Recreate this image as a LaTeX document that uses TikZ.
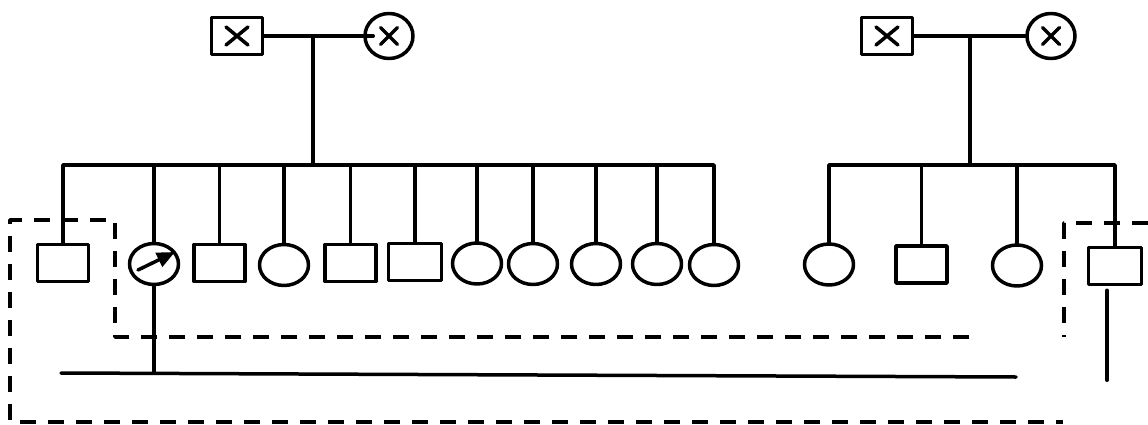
\documentclass[tikz,border=0pt]{standalone}
\usetikzlibrary{shapes.geometric,arrows.meta}
\begin{document}
\begin{tikzpicture}[x=1in,y=1in,line cap=round,line join=round,
  kin/.style={line width=0.035in},
  dashline/.style={line width=0.035in,line cap=butt,dash pattern=on 0.16in off 0.12in},
  male/.style={draw,rectangle,line width=0.035in,minimum width=0.51in,minimum height=0.37in,inner sep=0pt},
  female/.style={draw,ellipse,line width=0.035in,minimum width=0.49in,minimum height=0.41in,inner sep=0pt},
  crossed/.style 2 args={path picture={\draw[line width=0.035in] (path picture bounding box.center) +(-#1,-#2) -- +(#1,#2) +(-#1,#2) -- +(#1,-#2);}}]
\path[use as bounding box] (0,0) rectangle (11.48,-4.25);
% parents
\node[male,crossed={0.11}{0.09}] (pfA) at (2.37,-0.36) {};
\node[female,crossed={0.085}{0.085},minimum width=0.48in,minimum height=0.45in] (pmA) at (3.89,-0.36) {};
\node[male,crossed={0.11}{0.09}] (pfB) at (8.87,-0.36) {};
\node[female,crossed={0.085}{0.085},minimum width=0.48in,minimum height=0.45in] (pmB) at (10.51,-0.36) {};
% children, left sibship
\node[male] (c1) at (0.63,-2.63) {};
\node[female] (c2) at (1.54,-2.64) {};
\node[male] (c3) at (2.195,-2.63) {};
\node[female] (c4) at (2.84,-2.65) {};
\node[male] (c5) at (3.505,-2.63) {};
\node[male,minimum width=0.53in] (c6) at (4.15,-2.62) {};
\node[female] (c7) at (4.77,-2.635) {};
\node[female] (c8) at (5.33,-2.64) {};
\node[female] (c9) at (5.96,-2.64) {};
\node[female] (c10) at (6.57,-2.64) {};
\node[female] (c11) at (7.14,-2.65) {};
% children, right sibship
\node[female] (d1) at (8.29,-2.645) {};
\node[male] (d2) at (9.215,-2.645) {};
\node[female] (d3) at (10.17,-2.655) {};
\node[male,minimum width=0.53in] (d4) at (11.15,-2.66) {};
% lines of descent
\coordinate (mA) at (3.13,-0.36);
\coordinate (sibA) at (3.13,-1.65);
\coordinate (mB) at (9.70,-0.36);
\coordinate (sibB) at (9.70,-1.65);
\draw[kin] (pfA.east) -- ([xshift=0.1in]pmA.west);
\draw[kin] (pfB.east) -- (pmB.west);
\draw[kin] (mA) -- (sibA);
\draw[kin] (mB) -- (sibB);
\draw[kin] (c1.north) |- (sibA) -| (c11.north);
\draw[kin] (d1.north) |- (sibB) -| (d4.north);
\foreach \n in {c2,c3,c4,c5,c6,c7,c8,c9,c10} \draw[kin] (\n.north) -- (\n.north |- sibA);
\foreach \n in {d2,d3} \draw[kin] (\n.north) -- (\n.north |- sibB);
% arrow in proband
\draw[kin,-{Triangle[length=0.18in,width=0.15in]}] ([shift={(-0.16,-0.06)}]c2.center) -- ([shift={(0.21,0.12)}]c2.center);
% lower lines
\coordinate (hl) at (0.61,-3.73);
\coordinate (hr) at (10.16,-3.77);
\draw[kin] (hl) -- (hr);
\draw[kin] (c2.south) -- (c2.south |- hl);
\draw[kin] ([xshift=-0.08in,yshift=-0.04in]d4.south) -- ++(0,-0.90);
% dashed boxes
\draw[dashline] (9.69,-3.37) -- (1.15,-3.37) -- (1.15,-2.20) -- (0.10,-2.20) -- (0.10,-4.22) -- (10.63,-4.22);
\draw[dashline] (11.48,-2.23) -- (10.64,-2.23) -- (10.64,-3.37);
\end{tikzpicture}
\end{document}
